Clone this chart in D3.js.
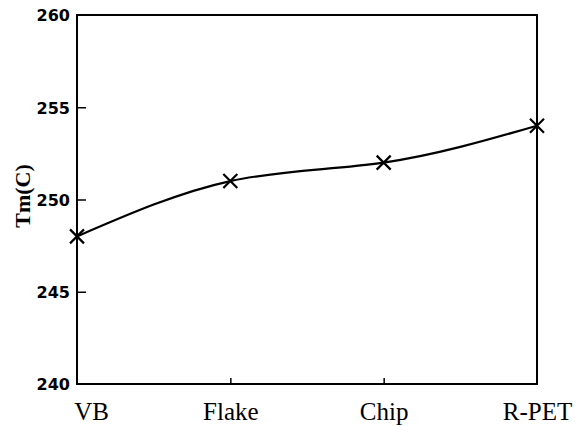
<!DOCTYPE html>
<html>
<head>
<meta charset="utf-8">
<script src="https://cdn.jsdelivr.net/npm/d3@7"></script>
<style>
  html, body { margin: 0; padding: 0; background: #fff; }
  svg { display: block; }
</style>
</head>
<body>
<svg id="chart" width="583" height="427"></svg>
<script>
// Melting temperature by sample form
const categories = ["VB", "Flake", "Chip", "R-PET"];
const tmValues = [248, 251, 252, 254];
const yTicks = [240, 245, 250, 255, 260];

const svg = d3.select("#chart");
const margin = { left: 77, right: 46, top: 15, bottom: 43 };
const W = 583, H = 427;

const x = d3.scalePoint().domain(categories).range([margin.left, W - margin.right]);
const y = d3.scaleLinear().domain([240, 260]).range([H - margin.bottom, margin.top]);

// frame
svg.append("rect")
  .attr("x", margin.left).attr("y", margin.top)
  .attr("width", W - margin.right - margin.left)
  .attr("height", H - margin.bottom - margin.top)
  .attr("fill", "none").attr("stroke", "#000").attr("stroke-width", 2);

// y axis with inward ticks
const yAxis = d3.axisLeft(y).tickValues(yTicks).tickSize(-9);
const gy = svg.append("g").attr("transform", `translate(${margin.left},0)`).call(yAxis);
gy.select(".domain").remove();
gy.selectAll(".tick line").attr("stroke", "#000").attr("stroke-width", 1.5)
  .filter(d => d === 240 || d === 260).remove();
gy.selectAll(".tick text")
  .style("font-family", "'DejaVu Sans', sans-serif")
  .style("font-weight", "bold")
  .style("font-size", "16px")
  .attr("fill", "#000")
  .attr("x", -7)
  .attr("dy", "0.36em");

// x axis with inward ticks
const xAxis = d3.axisBottom(x).tickSize(-6);
const gx = svg.append("g").attr("transform", `translate(0,${H - margin.bottom})`).call(xAxis);
gx.select(".domain").remove();
gx.selectAll(".tick line").attr("stroke", "#000").attr("stroke-width", 1.5)
  .filter(d => d === categories[0] || d === categories[categories.length - 1]).remove();
gx.selectAll(".tick text")
  .style("font-family", "'Liberation Serif', 'Times New Roman', serif")
  .style("font-size", "25px")
  .attr("fill", "#000")
  .attr("y", 36)
  .attr("dy", 0)
  .attr("dx", (d, i) => i === 0 ? 14 : 0);

// y title
svg.append("text")
  .attr("transform", `translate(30,196) rotate(-90)`)
  .attr("text-anchor", "middle")
  .style("font-family", "'Liberation Serif', 'Times New Roman', serif")
  .style("font-weight", "bold")
  .style("font-size", "22px")
  .attr("fill", "#000")
  .text("Tm(C)");

// smooth curve through points
const pts = categories.map((c, i) => [x(c), y(tmValues[i])]);
svg.append("path")
  .attr("d", d3.line().curve(d3.curveNatural)(pts))
  .attr("fill", "none").attr("stroke", "#000").attr("stroke-width", 2.2);

// cross markers
const s = 7;
svg.append("g").selectAll("path.mk").data(pts).join("path")
  .attr("class", "mk")
  .attr("d", d => `M${d[0]-s},${d[1]-s}L${d[0]+s},${d[1]+s}M${d[0]-s},${d[1]+s}L${d[0]+s},${d[1]-s}`)
  .attr("stroke", "#000").attr("stroke-width", 2.2).attr("fill", "none");
</script>
</body>
</html>
